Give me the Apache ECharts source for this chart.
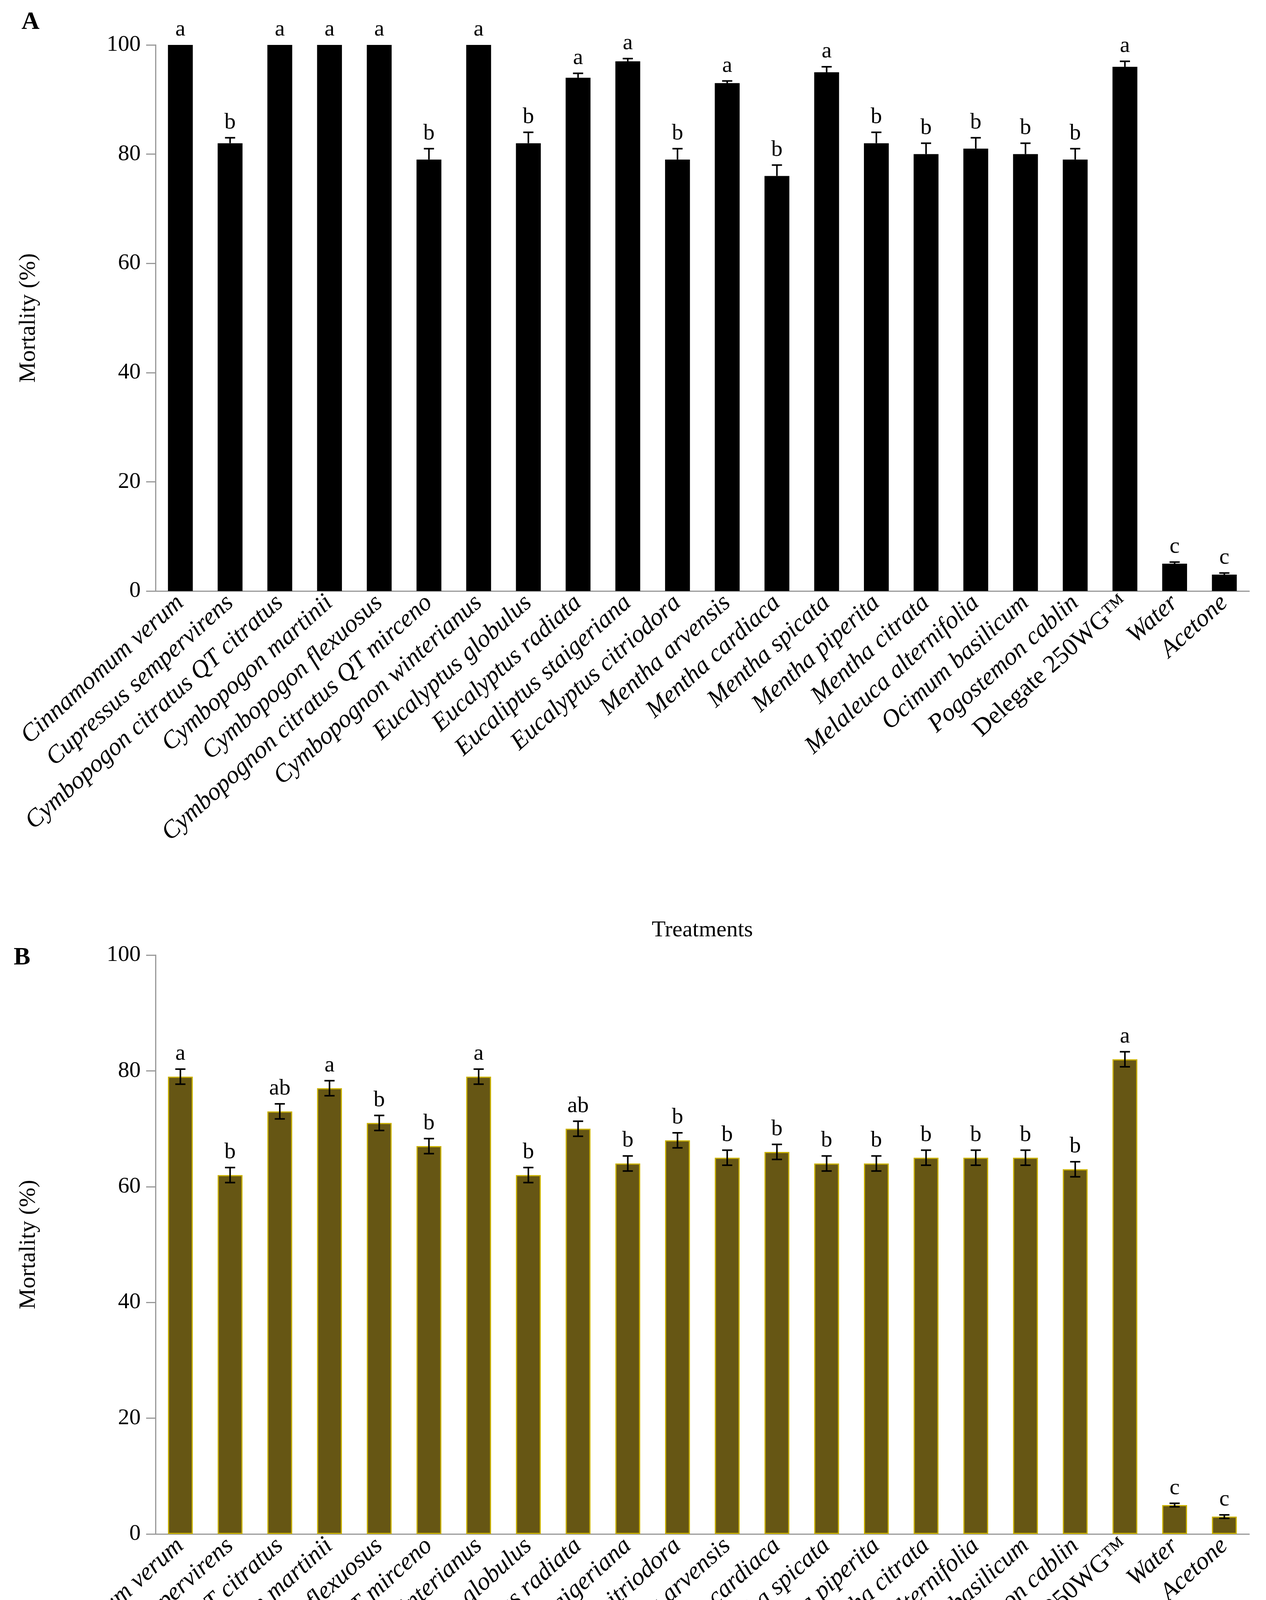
<!DOCTYPE html>
<html><head><meta charset="utf-8">
<script src="https://cdn.jsdelivr.net/npm/echarts@6/dist/echarts.min.js"></script>
<style>html,body{margin:0;padding:0;background:#fff}#c{width:3240px;height:4812px}</style>
</head><body><div id="c"></div>
<script>
const categories = ['Cinnamomum verum','Cupressus sempervirens','Cymbopogon citratus QT citratus','Cymbopogon martinii','Cymbopogon flexuosus','Cymbopognon citratus QT mirceno','Cymbopognon winterianus','Eucalyptus globulus','Eucalyptus radiata','Eucaliptus staigeriana','Eucalyptus citriodora','Mentha arvensis','Mentha cardiaca','Mentha spicata','Mentha piperita','Mentha citrata','Melaleuca alternifolia','Ocimum basilicum','Pogostemon cablin','Delegate 250WG™','Water','Acetone'];
const valuesA = [100,82,100,100,100,79,100,82,94,97,79,93,76,95,82,80,81,80,79,96,5,3];
const errorsA = [0,1,0,0,0,2,0,2,0.8,0.5,2,0.4,2,1,2,2,2,2,2,1,0.3,0.3];
const lettersA = ['a','b','a','a','a','b','a','b','a','a','b','a','b','a','b','b','b','b','b','a','c','c'];
const valuesB = [79,62,73,77,71,67,79,62,70,64,68,65,66,64,64,65,65,65,63,82,5,3];
const errorsB = [1.3,1.3,1.3,1.3,1.3,1.3,1.3,1.3,1.3,1.3,1.3,1.3,1.3,1.3,1.3,1.3,1.3,1.3,1.3,1.3,0.3,0.3];
const lettersB = ['a','b','ab','a','b','b','a','b','ab','b','b','b','b','b','b','b','b','b','b','a','c','c'];
const yTicks = [0,20,40,60,80,100];

const F = 'Liberation Serif';
const chart = echarts.init(document.getElementById('c'));
function xAxis(gi){
  return {type:'category',gridIndex:gi,data:categories,
    name:'Treatments',nameLocation:'middle',nameGap: gi===0?840:826,
    nameTextStyle:{fontFamily:F,fontSize:58,color:'#000'},
    axisLine:{lineStyle:{color:'#999',width:3}},
    axisTick:{length:14,lineStyle:{color:'#999',width:3}},
    axisLabel:{rotate:42,margin:22,interval:0,formatter:v=>v==='Delegate 250WG™'?'{n|'+v+'}':'{i|'+v+'}',
      rich:{i:{fontFamily:F,fontSize:64,fontStyle:'italic',color:'#000'},n:{fontFamily:F,fontSize:64,color:'#000'}}}};
}
function yAxis(gi){
  return {type:'value',gridIndex:gi,min:0,max:100,interval:20,
    name:'Mortality (%)',nameLocation:'middle',nameGap:295,
    nameTextStyle:{fontFamily:F,fontSize:60,color:'#000'},
    axisLine:{show:true,lineStyle:{color:'#999',width:3}},
    axisTick:{show:true,length:24,lineStyle:{color:'#999',width:3}},
    splitLine:{show:false},
    axisLabel:{fontFamily:F,fontSize:58,color:'#000',margin:38,formatter:v=>yTicks.includes(v)?String(v):''}};
}
function errSeries(gi,vals,errs,letters,both){
  return {type:'custom',xAxisIndex:gi,yAxisIndex:gi,z:5,
    data:vals.map((v,i)=>[i,v,errs[i],letters[i]]),
    renderItem:(p,api)=>{
      const i=api.value(0),v=api.value(1),e=api.value(2);
      const top=api.coord([i,v+e]),bot=api.coord([i,both?v-e:v]);
      const hw=13,st={stroke:'#000',lineWidth:4};
      const ch=[];
      if(e>0){
        ch.push({type:'line',shape:{x1:top[0],y1:top[1],x2:bot[0],y2:bot[1]},style:st});
        ch.push({type:'line',shape:{x1:top[0]-hw,y1:top[1],x2:top[0]+hw,y2:top[1]},style:st});
        if(both) ch.push({type:'line',shape:{x1:bot[0]-hw,y1:bot[1],x2:bot[0]+hw,y2:bot[1]},style:st});
      }
      ch.push({type:'text',style:{text:letters[i],x:top[0],y:top[1]-10,align:'center',verticalAlign:'bottom',
        font:'58px "Liberation Serif"',fill:'#000'}});
      return {type:'group',children:ch};
    }};
}
chart.setOption({
  animation:false,backgroundColor:'#fff',
  grid:[{left:398,right:43,top:115,height:1398},{left:398,right:43,top:2445,height:1486}],
  xAxis:[xAxis(0),xAxis(1)],
  yAxis:[yAxis(0),yAxis(1)],
  graphic:[
    {type:'text',left:55,top:25,style:{text:'A',font:'bold 64px "Liberation Serif"',fill:'#000'}},
    {type:'text',left:35,top:2420,style:{text:'B',font:'bold 64px "Liberation Serif"',fill:'#000'}}
  ],
  series:[
    {type:'bar',xAxisIndex:0,yAxisIndex:0,data:valuesA,barWidth:'50%',itemStyle:{color:'#000'}},
    errSeries(0,valuesA,errorsA,lettersA,false),
    {type:'bar',xAxisIndex:1,yAxisIndex:1,data:valuesB,barWidth:'50%',itemStyle:{color:'#665614',borderColor:'#c9b000',borderWidth:3}},
    errSeries(1,valuesB,errorsB,lettersB,true)
  ]
});
</script></body></html>
